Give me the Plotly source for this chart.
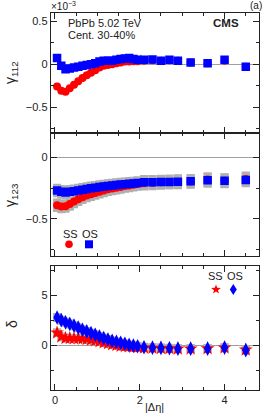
import math
import plotly.graph_objects as go

W, H = 266, 418

# ---------------- data ----------------
delta_eta = [0.05, 0.15, 0.25, 0.35, 0.45, 0.55, 0.65, 0.75, 0.85, 0.95,
             1.05, 1.15, 1.25, 1.35, 1.45, 1.55, 1.65, 1.75, 1.85, 1.95,
             2.1, 2.3, 2.5, 2.7, 2.9, 3.2, 3.6, 4.0, 4.5]

# gamma_112 (x 1e-3)
g112_ss = [-0.26, -0.31, -0.32, -0.28, -0.24, -0.20, -0.16, -0.13, -0.10, -0.07,
           -0.04, -0.02, -0.01, 0.00, 0.01, 0.02, 0.03, 0.03, 0.035, 0.035,
           0.04, 0.045, 0.04, 0.045, 0.04, 0.02, 0.01, 0.04, -0.03]
g112_os = [0.07, -0.02, -0.06, -0.05, -0.04, -0.03, -0.02, -0.01, 0.00, 0.01,
           0.03, 0.04, 0.04, 0.04, 0.05, 0.06, 0.065, 0.07, 0.06, 0.05,
           0.05, 0.055, 0.04, 0.05, 0.04, 0.02, 0.01, 0.05, -0.03]

# gamma_123 (x 1e-3)
g123_ss = [-0.39, -0.40, -0.397, -0.38, -0.36, -0.34, -0.325, -0.31, -0.30, -0.29,
           -0.28, -0.27, -0.26, -0.253, -0.247, -0.24, -0.233, -0.228, -0.222, -0.217,
           -0.21, -0.207, -0.203, -0.20, -0.20, -0.196, -0.18, -0.19, -0.175]
g123_os = [-0.27, -0.28, -0.286, -0.28, -0.275, -0.27, -0.264, -0.258, -0.25, -0.247,
           -0.24, -0.236, -0.232, -0.228, -0.224, -0.221, -0.218, -0.215, -0.212, -0.208,
           -0.203, -0.203, -0.200, -0.200, -0.197, -0.194, -0.186, -0.189, -0.183]
sys123_ss = [0.055, 0.055, 0.055, 0.055, 0.055, 0.055, 0.055, 0.055, 0.055, 0.055,
             0.055, 0.055, 0.055, 0.055, 0.055, 0.055, 0.055, 0.055, 0.055, 0.055,
             0.06, 0.06, 0.06, 0.06, 0.06, 0.06, 0.06, 0.06, 0.06]
sys123_os = [0.055, 0.055, 0.055, 0.055, 0.055, 0.055, 0.055, 0.055, 0.055, 0.055,
             0.055, 0.055, 0.055, 0.055, 0.055, 0.055, 0.055, 0.055, 0.055, 0.055,
             0.06, 0.06, 0.06, 0.06, 0.06, 0.06, 0.06, 0.06, 0.06]

# delta
delta_ss = [1.26, 0.85, 0.71, 0.71, 0.68, 0.68, 0.65, 0.60, 0.54, 0.48,
            0.37, 0.27, 0.17, 0.07, 0.00, -0.07, -0.10, -0.14, -0.17, -0.20,
            -0.25, -0.28, -0.30, -0.32, -0.35, -0.35, -0.33, -0.25, -0.45]
delta_os = [2.79, 2.52, 2.31, 2.14, 1.97, 1.77, 1.56, 1.39, 1.22, 1.05,
            0.88, 0.71, 0.58, 0.44, 0.34, 0.24, 0.14, 0.03, -0.03, -0.10,
            -0.20, -0.24, -0.27, -0.30, -0.34, -0.34, -0.34, -0.24, -0.50]
sysd_ss = [0.45, 0.45, 0.45, 0.45, 0.45, 0.45, 0.45, 0.45, 0.45, 0.45,
           0.45, 0.45, 0.45, 0.45, 0.45, 0.45, 0.45, 0.45, 0.45, 0.45,
           0.45, 0.45, 0.45, 0.45, 0.45, 0.45, 0.45, 0.45, 0.45]
sysd_os = [0.45, 0.45, 0.45, 0.45, 0.45, 0.45, 0.45, 0.45, 0.45, 0.45,
           0.45, 0.45, 0.45, 0.45, 0.45, 0.45, 0.45, 0.45, 0.45, 0.45,
           0.45, 0.45, 0.45, 0.45, 0.45, 0.45, 0.45, 0.45, 0.45]

RED = "#ff0000"
BLUE = "#0000ff"
GRAY_BOX = "#b0b0b0"
FRAME = "#222222"
FONT = "Liberation Sans, Arial, sans-serif"


def px_x(p):
    return p / W


def px_y(p):
    return 1 - p / H


fig = go.Figure()


def sys_boxes(vals, errs, ax):
    return go.Bar(x=delta_eta, y=[2 * e for e in errs],
                  base=[v - e for v, e in zip(vals, errs)],
                  width=0.19, marker=dict(color=GRAY_BOX, line=dict(width=0)),
                  xaxis="x" + ax, yaxis="y" + ax, showlegend=False, hoverinfo="skip")


# panel 1
fig.add_trace(go.Scatter(x=delta_eta, y=g112_ss, mode="markers",
                         marker=dict(symbol="circle", size=8, color=RED),
                         xaxis="x", yaxis="y", showlegend=False))
fig.add_trace(go.Scatter(x=delta_eta, y=g112_os, mode="markers",
                         marker=dict(symbol="square", size=8.5, color=BLUE),
                         xaxis="x", yaxis="y", showlegend=False))

# panel 2
fig.add_trace(sys_boxes(g123_ss, sys123_ss, "2"))
fig.add_trace(sys_boxes(g123_os, sys123_os, "2"))
fig.add_trace(go.Scatter(x=delta_eta, y=g123_ss, mode="markers",
                         marker=dict(symbol="circle", size=8, color=RED),
                         xaxis="x2", yaxis="y2", showlegend=False))
fig.add_trace(go.Scatter(x=delta_eta, y=g123_os, mode="markers",
                         marker=dict(symbol="square", size=8.5, color=BLUE),
                         xaxis="x2", yaxis="y2", showlegend=False))

# panel 3
fig.add_trace(sys_boxes(delta_ss, sysd_ss, "3"))
fig.add_trace(sys_boxes(delta_os, sysd_os, "3"))
fig.add_trace(go.Scatter(x=delta_eta, y=delta_ss, mode="markers",
                         marker=dict(symbol="star", size=10.5, color=RED),
                         xaxis="x3", yaxis="y3", showlegend=False))
fig.add_trace(go.Scatter(x=delta_eta, y=delta_os, mode="markers",
                         marker=dict(symbol="diamond-tall", size=10.5, color=BLUE),
                         xaxis="x3", yaxis="y3", showlegend=False))

x_dom = [px_x(50.7), px_x(258.5)]
xcommon = dict(range=[-0.1, 4.8], domain=x_dom, showline=True, linecolor=FRAME, linewidth=1,
               mirror="ticks", ticks="inside", ticklen=6, tickcolor=FRAME, tickwidth=1,
               tick0=0, dtick=2, zeroline=False, showgrid=False,
               minor=dict(ticks="inside", dtick=0.5, ticklen=3, tickcolor=FRAME),
               tickfont=dict(family=FONT, size=11, color=FRAME))
ycommon = dict(showline=True, linecolor=FRAME, linewidth=1, mirror="ticks", ticks="inside",
               ticklen=6, tickcolor=FRAME, tickwidth=1, showgrid=False, zeroline=True,
               zerolinecolor="#a0a0a0", zerolinewidth=1,
               tickfont=dict(family=FONT, size=11, color=FRAME))

fig.update_layout(
    width=W, height=H, margin=dict(l=0, r=0, t=0, b=0),
    paper_bgcolor="white", plot_bgcolor="white", barmode="overlay",
    font=dict(family=FONT, color=FRAME),
    xaxis=dict(xcommon, anchor="y", showticklabels=False),
    xaxis2=dict(xcommon, anchor="y2", showticklabels=False),
    xaxis3=dict(xcommon, anchor="y3", showticklabels=True),
    yaxis=dict(ycommon, range=[-0.8, 0.6], domain=[px_y(133), px_y(12.5)], anchor="x",
               tick0=0, dtick=0.5, minor=dict(ticks="inside", dtick=0.25, ticklen=3, tickcolor=FRAME)),
    yaxis2=dict(ycommon, range=[-0.8, 0.2], domain=[px_y(255.5), px_y(133)], anchor="x2",
                tick0=0, dtick=0.5, minor=dict(ticks="inside", dtick=0.25, ticklen=3, tickcolor=FRAME)),
    yaxis3=dict(ycommon, range=[-4.5, 8], domain=[px_y(390), px_y(265.7)], anchor="x3",
                tick0=0, dtick=5, minor=dict(ticks="inside", dtick=2.5, ticklen=3, tickcolor=FRAME)),
)

ann = []


def text(s, x, y, size=11, xanchor="center", angle=0, bold=False):
    ann.append(dict(text=("<b>%s</b>" % s) if bold else s, x=px_x(x), y=px_y(y),
                    xref="paper", yref="paper", xanchor=xanchor, yanchor="middle",
                    showarrow=False, textangle=angle,
                    font=dict(family=FONT, size=size, color=FRAME)))


text("×10<sup>−3</sup>", 49, 6, size=10, xanchor="left")
text("(a)", 264, 5, size=10, xanchor="right")
text("PbPb 5.02 TeV", 66, 23, size=11, xanchor="left")
text("Cent. 30-40%", 66, 35.5, size=11, xanchor="left")
text("CMS", 240.5, 23, size=11.5, xanchor="right", bold=True)
text("γ<sub>112</sub>", 11, 73, size=14, angle=-90)
text("γ<sub>123</sub>", 11, 195, size=14, angle=-90)
text("δ", 12, 324, size=14, angle=-90)
text("|Δη|", 154, 407, size=11)
text("SS", 70, 233.5, size=11)
text("OS", 90, 233.5, size=11)
text("SS", 215.5, 276, size=11)
text("OS", 234.5, 276, size=11)

shapes = []
# legend keys, panel 2
shapes.append(dict(type="circle", xref="paper", yref="paper",
                   x0=px_x(69 - 3.8), x1=px_x(69 + 3.8), y0=px_y(244.3 + 3.8), y1=px_y(244.3 - 3.8),
                   fillcolor=RED, line=dict(width=0)))
shapes.append(dict(type="rect", xref="paper", yref="paper",
                   x0=px_x(89 - 4), x1=px_x(89 + 4), y0=px_y(244.3 + 4), y1=px_y(244.3 - 4),
                   fillcolor=BLUE, line=dict(width=0)))


def poly_path(pts):
    return "M " + " L ".join("%.5f,%.5f" % (px_x(a), px_y(b)) for a, b in pts) + " Z"


# star key, panel 3
cx, cy, Ro, Ri = 216, 289.5, 5.0, 2.1
star = []
for k in range(10):
    r = Ro if k % 2 == 0 else Ri
    ang = -math.pi / 2 + k * math.pi / 5
    star.append((cx + r * math.cos(ang), cy + r * math.sin(ang)))
shapes.append(dict(type="path", xref="paper", yref="paper", path=poly_path(star),
                   fillcolor=RED, line=dict(width=0)))
# diamond key, panel 3
dx, dy = 233.3, 289.5
diamond = [(dx, dy - 5.5), (dx + 3.5, dy), (dx, dy + 5.5), (dx - 3.5, dy)]
shapes.append(dict(type="path", xref="paper", yref="paper", path=poly_path(diamond),
                   fillcolor=BLUE, line=dict(width=0)))

fig.update_layout(annotations=ann, shapes=shapes)

fig.write_html("out.html", config={"displayModeBar": False},
               post_script="document.body.style.margin='0';document.body.style.overflow='hidden';")
